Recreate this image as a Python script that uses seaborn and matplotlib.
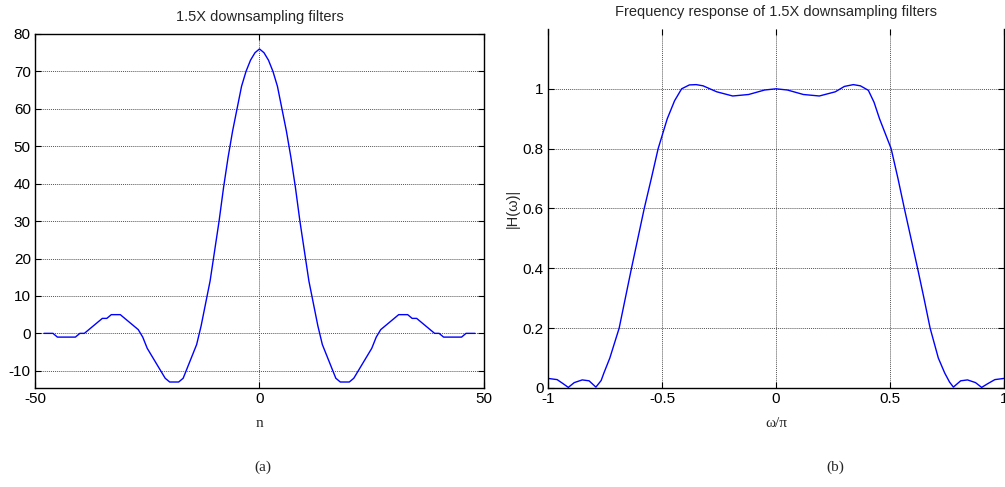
import numpy as np
import pandas as pd
import matplotlib
matplotlib.use("Agg")
import matplotlib.pyplot as plt
import seaborn as sns

# ==============================
# Data
# ==============================

# (a) filter taps, n = -48 .. 48
n_taps = list(range(-48, 49))
h_taps = [0, 0, 0, -1, -1, -1, -1, -1, 0, 0, 1, 2, 3, 4, 4, 5, 5, 5, 4, 3,
          2, 1, -1, -4, -6, -8, -10, -12, -13, -13, -13, -12, -9, -6, -3, 2,
          8, 14, 22, 30, 39, 47, 54, 60, 66, 70, 73, 75,
          76,
          75, 73, 70, 66, 60, 54, 47, 39, 30, 22, 14, 8, 2, -3, -6, -9, -12,
          -13, -13, -13, -12, -10, -8, -6, -4, -1, 1, 2, 3, 4, 5, 5, 5, 4, 4,
          3, 2, 1, 0, 0, -1, -1, -1, -1, -1, 0, 0, 0]

# (b) magnitude response, w = omega/pi
w_freq = [-1.0, -0.96, -0.935, -0.911, -0.885, -0.85, -0.82, -0.79, -0.767,
          -0.755, -0.729, -0.688, -0.661, -0.634, -0.606, -0.578, -0.547,
          -0.517, -0.477, -0.445, -0.414, -0.38, -0.35, -0.32, -0.26, -0.19,
          -0.12, -0.05, 0.0, 0.05, 0.12, 0.19, 0.26, 0.30, 0.339, 0.37, 0.405,
          0.43, 0.454, 0.505, 0.535, 0.563, 0.592, 0.621, 0.649, 0.676, 0.712,
          0.74, 0.761, 0.778, 0.81, 0.84, 0.875, 0.902, 0.93, 0.96, 1.0]
h_mag = [0.032, 0.028, 0.015, 0.002, 0.018, 0.027, 0.024, 0.003, 0.025,
         0.05, 0.10, 0.20, 0.30, 0.40, 0.50, 0.60, 0.70,
         0.80, 0.90, 0.96, 1.00, 1.013, 1.014, 1.010, 0.990, 0.976,
         0.981, 0.996, 1.0, 0.996, 0.981, 0.976, 0.990, 1.008, 1.014, 1.010,
         0.995, 0.955, 0.90, 0.80, 0.70, 0.60, 0.50, 0.40, 0.30, 0.20, 0.10,
         0.05, 0.02, 0.003, 0.024, 0.027, 0.018, 0.002, 0.015, 0.028, 0.032]

left_xticks = [-50, 0, 50]
left_yticks = [-10, 0, 10, 20, 30, 40, 50, 60, 70, 80]
right_xticks = [-1, -0.5, 0, 0.5, 1]
right_xlabels = ["-1", "-0.5", "0", "0.5", "1"]
right_yticks = [0, 0.2, 0.4, 0.6, 0.8, 1]
right_ylabels = ["0", "0.2", "0.4", "0.6", "0.8", "1"]

df_taps = pd.DataFrame({"n": n_taps, "h": h_taps})
df_freq = pd.DataFrame({"w": w_freq, "H": h_mag})

# ==============================
# Style
# ==============================

sns.set_style("ticks")
plt.rcParams['font.family'] = ['Liberation Sans', 'DejaVu Sans']
plt.rcParams['axes.unicode_minus'] = False

fig = plt.figure(figsize=(10.05, 4.87), dpi=100)
ax1 = fig.add_axes([0.0348, 0.2033, 0.4468, 0.7269])
ax2 = fig.add_axes([0.5453, 0.2033, 0.4537, 0.7372])

for ax in (ax1, ax2):
    ax.grid(True, linestyle=(0, (1, 1)), color="#555555", linewidth=0.7)
    ax.tick_params(direction="in", length=4, width=0.8, top=True, right=True,
                   labelsize=11, pad=3, colors="black")
    for s in ax.spines.values():
        s.set_linewidth(1.0)
        s.set_color("black")

# ==============================
# (a) filter taps
# ==============================

sns.lineplot(data=df_taps, x="n", y="h", ax=ax1, color="blue", linewidth=1)
ax1.set_xlim(-50, 50)
ax1.set_ylim(-14.6, 80)
ax1.set_xticks(left_xticks)
ax1.set_yticks(left_yticks)
ax1.set_title("1.5X downsampling filters", fontsize=10.5, pad=9)
ax1.set_xlabel("n", fontsize=11, family="Liberation Serif", labelpad=8)
ax1.set_ylabel("")

# ==============================
# (b) frequency response
# ==============================

sns.lineplot(data=df_freq, x="w", y="H", ax=ax2, color="blue", linewidth=1)
ax2.set_xlim(-1, 1)
ax2.set_ylim(0, 1.2)
ax2.set_xticks(right_xticks)
ax2.set_xticklabels(right_xlabels)
ax2.set_yticks(right_yticks)
ax2.set_yticklabels(right_ylabels)
ax2.spines["top"].set_visible(False)
ax2.set_title("Frequency response of 1.5X downsampling filters",
              fontsize=10.5, pad=9)
ax2.set_xlabel("ω/π", fontsize=11, family="Liberation Serif", labelpad=8)
ax2.set_ylabel("|H(ω)|", fontsize=10.5, labelpad=2)

fig.text(263 / 1005, 1 - 467 / 487, "(a)", ha="center", va="center",
         fontsize=11, family="Liberation Serif")
fig.text(835 / 1005, 1 - 467 / 487, "(b)", ha="center", va="center",
         fontsize=11, family="Liberation Serif")

plt.savefig("out.png", dpi=100)
plt.close()
